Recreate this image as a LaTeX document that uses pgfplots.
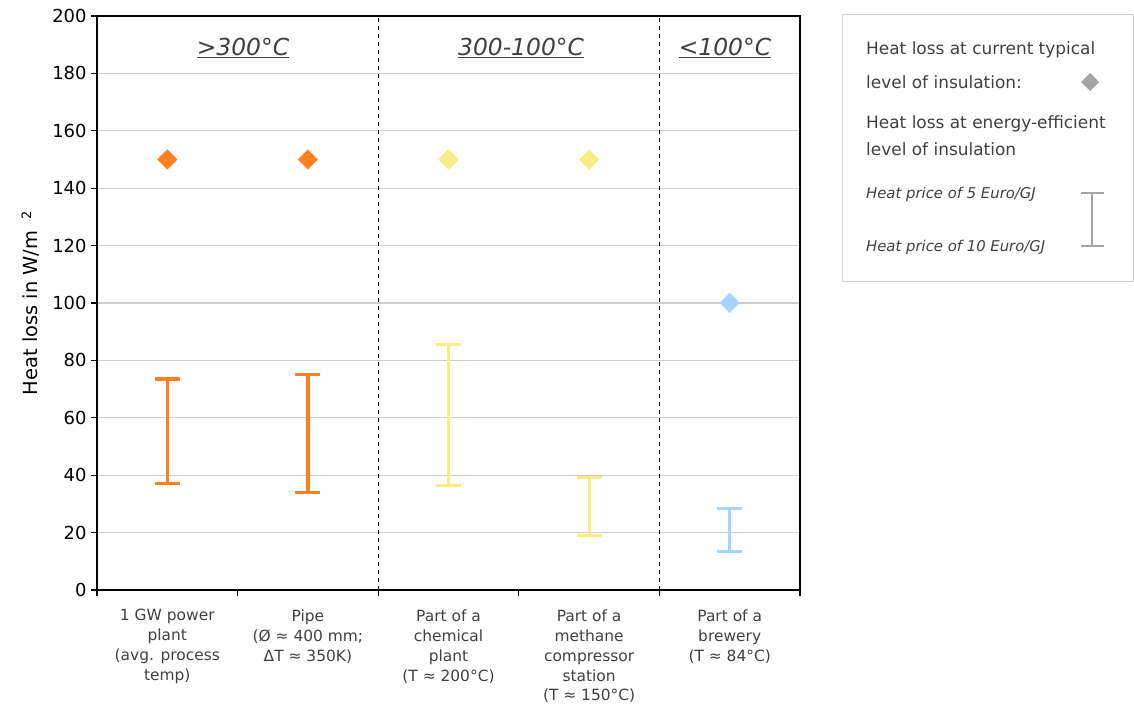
\documentclass[border=0pt]{standalone}
\usepackage{fontspec}
\setmainfont{DejaVu Sans}
\usepackage{pgfplots}
\pgfplotsset{compat=1.18}
\definecolor{cOr}{RGB}{255,128,32}
\definecolor{cYe}{RGB}{245,238,130}
\definecolor{cBl}{RGB}{166,211,255}
\definecolor{gridgray}{RGB}{205,205,205}
\definecolor{labgray}{RGB}{64,64,64}
\definecolor{legbox}{RGB}{210,210,210}
\definecolor{legsym}{RGB}{165,165,165}
\begin{document}
\begin{tikzpicture}[x=1bp,y=1bp]
\useasboundingbox (0,0) rectangle (1134,713);
\begin{axis}[
  at={(97bp,123bp)}, anchor=south west,
  scale only axis, width=703bp, height=574bp,
  xmin=-0.5, xmax=4.5, ymin=0, ymax=200,
  xtick={0,1,2,3,4},
  xticklabels={{1 GW power\\plant\\(avg. process\\temp)},
               {Pipe\\(Ø ≈ 400 mm;\\ΔT ≈ 350K)},
               {Part of a\\chemical\\plant\\(T ≈ 200°C)},
               {Part of a\\methane\\compressor\\station\\(T ≈ 150°C)},
               {Part of a\\brewery\\(T ≈ 84°C)}},
  minor xtick={-0.5,0.5,1.5,2.5,3.5,4.5},
  major x tick style={draw=none},
  ytick={0,20,...,200},
  tick align=outside,
  xtick pos=bottom, ytick pos=left,
  major tick length=6bp, minor tick length=6bp,
  ymajorgrids, grid style={draw=gridgray, line width=1.3bp},
  axis line style={line width=1.8bp},
  tick style={black, line width=1.3bp},
  /pgf/number format/assume math mode=true,
  yticklabel style={font=\fontsize{18}{21}\selectfont, xshift=-1bp},
  xticklabel style={font=\fontsize{15.5}{20}\selectfont, align=center, text=labgray, yshift=-10bp},
  ylabel={Heat loss in W/m\hspace{0.6em}\raisebox{0.55ex}{\fontsize{13}{15}\selectfont 2}},
  ylabel style={font=\fontsize{19.5}{22}\selectfont, at={(axis description cs:-0.095,0.5)}, anchor=center},
  clip=false,
]
% dashed separators
\addplot[black, line width=1.2bp, dash pattern=on 4bp off 4bp] coordinates {(1.5,0) (1.5,200)};
\addplot[black, line width=1.2bp, dash pattern=on 4bp off 4bp] coordinates {(3.5,0) (3.5,200)};
% error bars: energy-efficient insulation (5 and 10 Euro/GJ)
\addplot[cOr, line width=3.2bp, mark=-, mark size=12.5bp] coordinates {(0,37) (0,73.5)};
\addplot[cOr, line width=3.2bp, mark=-, mark size=12.5bp] coordinates {(1,34) (1,75)};
\addplot[cYe, line width=3.2bp, mark=-, mark size=12.5bp] coordinates {(2,36.5) (2,85.5)};
\addplot[cYe, line width=3.2bp, mark=-, mark size=12.5bp] coordinates {(3,19) (3,39.3)};
\addplot[cBl, line width=3.2bp, mark=-, mark size=12.5bp] coordinates {(4,13.5) (4,28.3)};
% current typical insulation
\addplot[only marks, mark=square*, mark size=6.9bp, mark options={rotate=45, fill=cOr, draw=cOr}] coordinates {(0,150) (1,150)};
\addplot[only marks, mark=square*, mark size=6.9bp, mark options={rotate=45, fill=cYe, draw=cYe}] coordinates {(2,150) (3,150)};
\addplot[only marks, mark=square*, mark size=6.9bp, mark options={rotate=45, fill=cBl, draw=cBl}] coordinates {(4,100)};
% section titles
\node[text=labgray, font=\fontsize{23.5}{27}\selectfont\itshape] at (axis cs:0.538,188.8) {\underline{>300°C}};
\node[text=labgray, font=\fontsize{23.5}{27}\selectfont\itshape] at (axis cs:2.516,188.8) {\underline{300-100°C}};
\node[text=labgray, font=\fontsize{23.5}{27}\selectfont\itshape] at (axis cs:3.966,188.8) {\underline{<100°C}};
\end{axis}
% legend box
\draw[legbox, line width=1bp] (842.5,698.5) rectangle (1133.5,431);
\begin{scope}[every node/.style={anchor=west, inner sep=0pt, text=labgray, font=\fontsize{17}{20}\selectfont}]
\node at (866,663) {Heat loss at current typical};
\node at (866,631) {level of insulation:};
\node at (866,589) {Heat loss at energy-efficient};
\node at (866,564) {level of insulation};
\node[font=\fontsize{14.9}{18}\selectfont\itshape] at (866,519) {Heat price of 5 Euro/GJ};
\node[font=\fontsize{14.9}{18}\selectfont\itshape] at (866,466) {Heat price of 10 Euro/GJ};
\end{scope}
\fill[legsym] (1090,640) -- (1099,631) -- (1090,622) -- (1081,631) -- cycle;
\draw[legsym, line width=2bp] (1092,520) -- (1092,467);
\draw[legsym, line width=2bp] (1080.5,520) -- (1103.5,520);
\draw[legsym, line width=2bp] (1080.5,467) -- (1103.5,467);
\end{tikzpicture}
\end{document}
